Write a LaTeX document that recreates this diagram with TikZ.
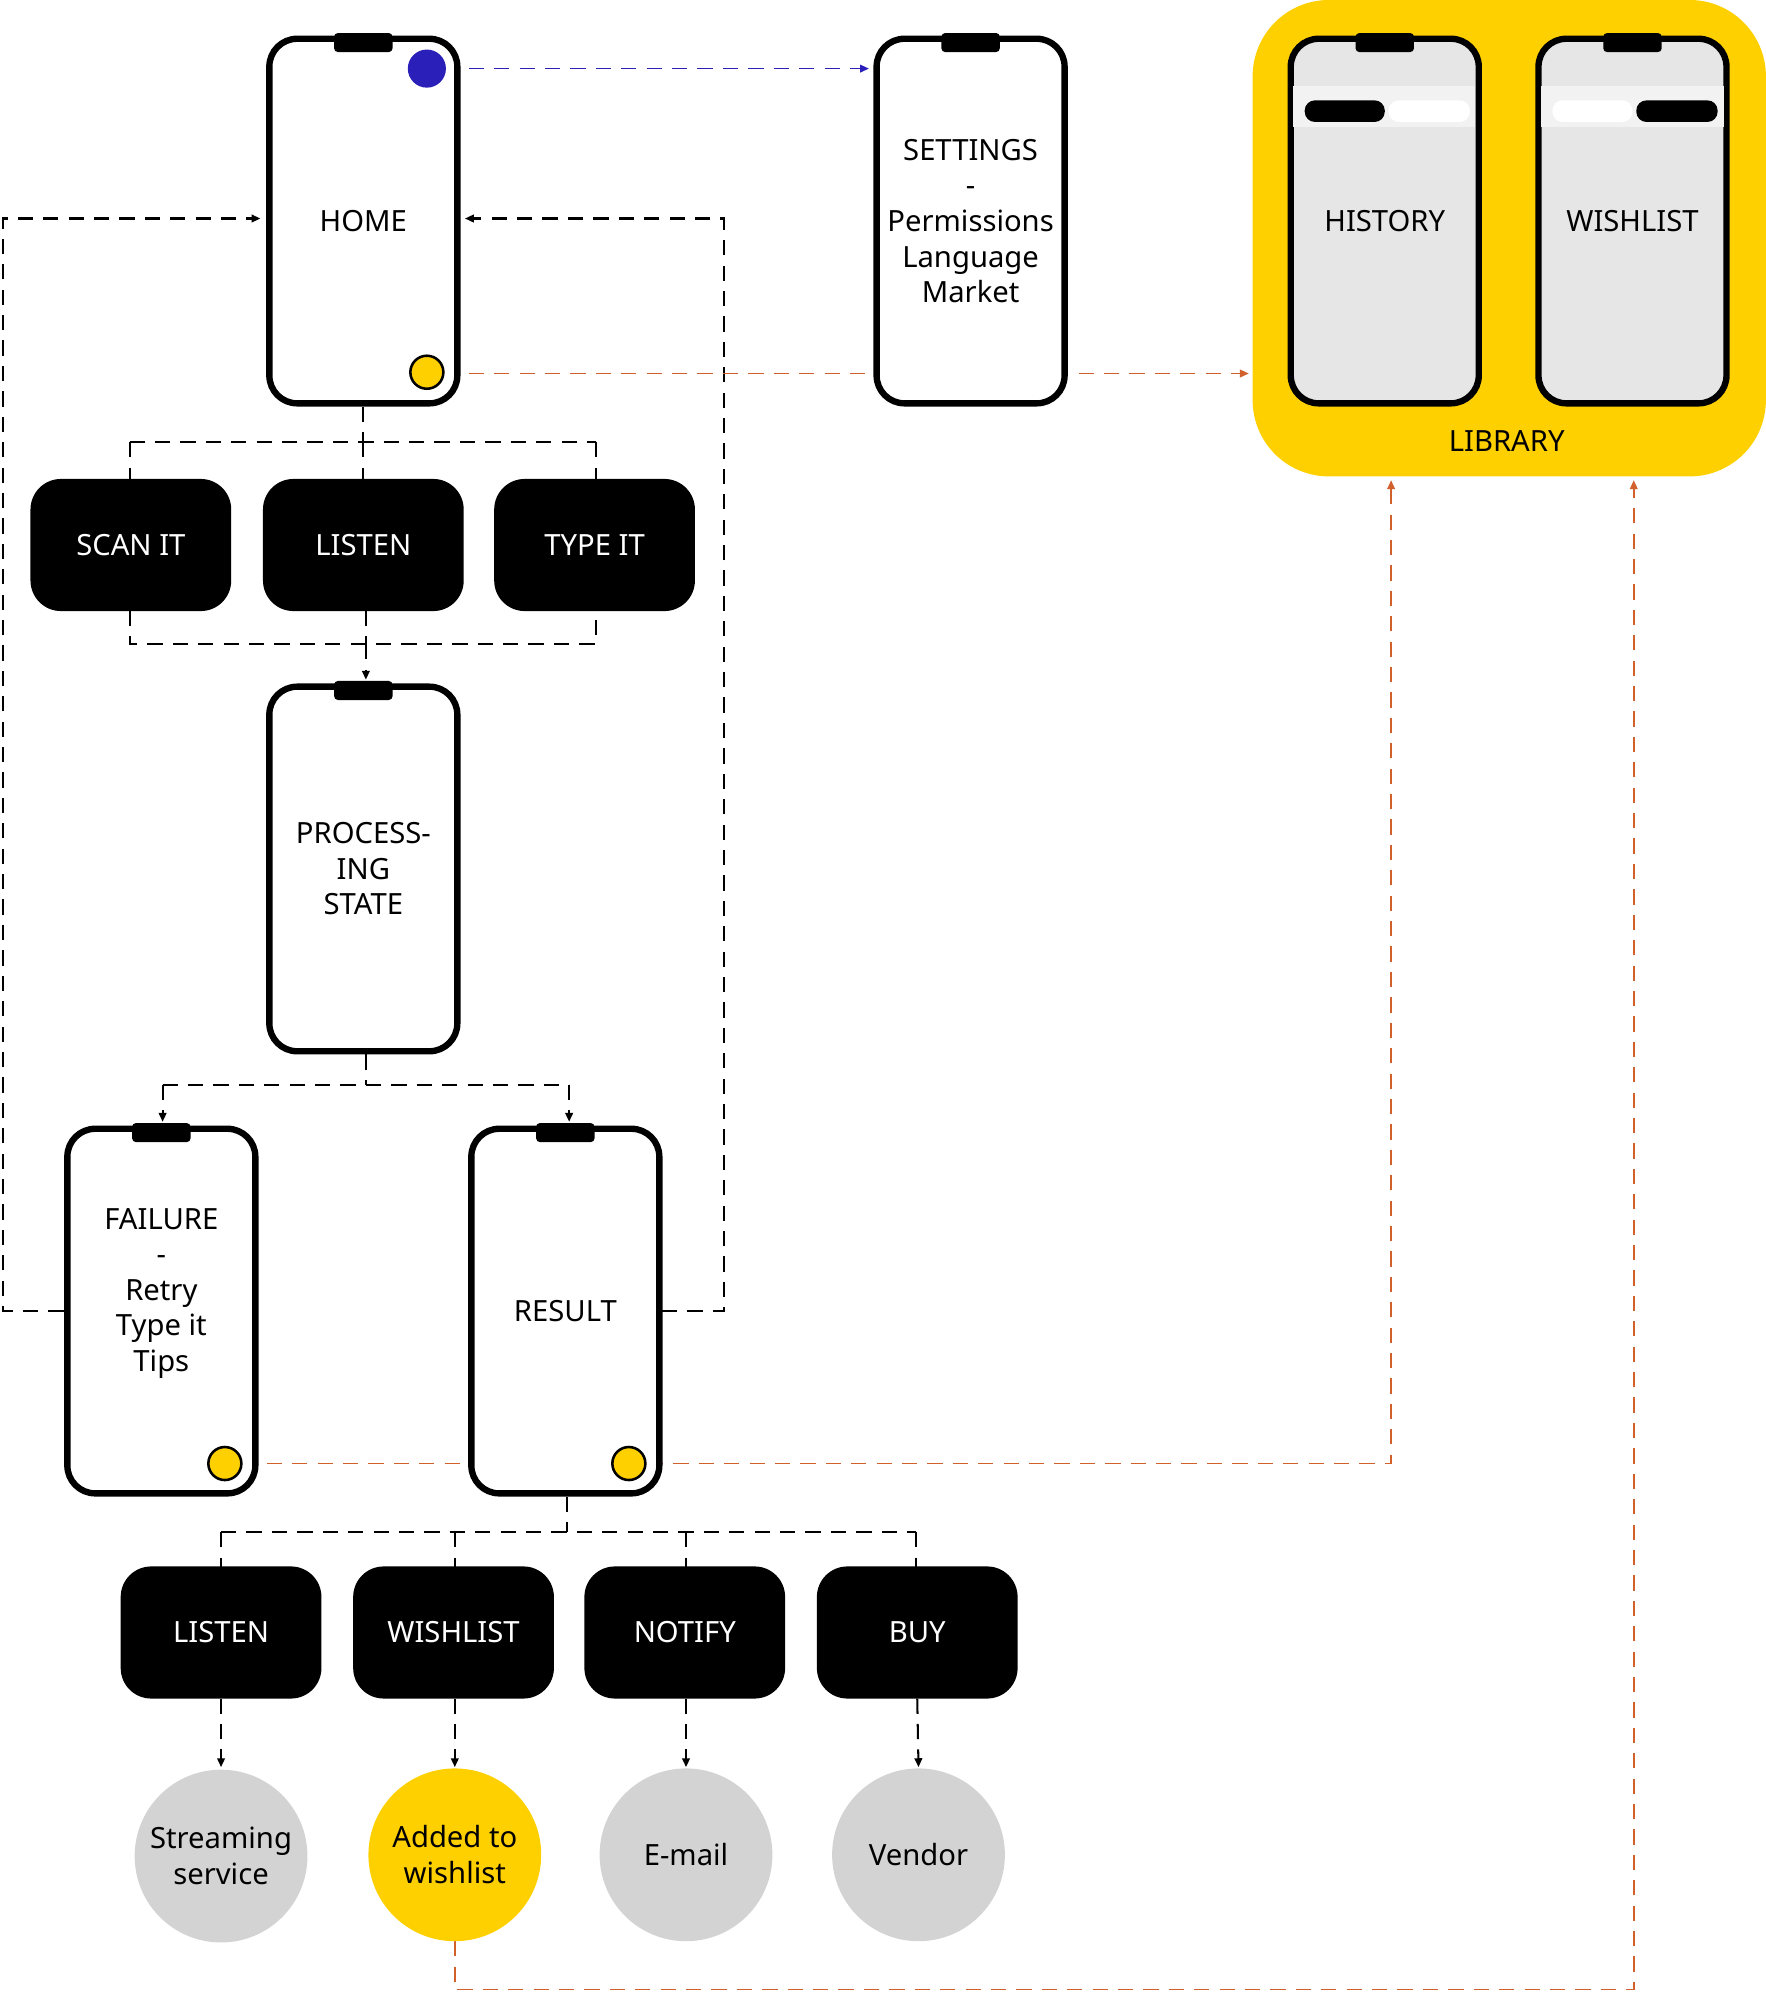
\documentclass[tikz,border=0pt]{standalone}
\usepackage{fontspec}
\setmainfont{Noto Sans}
\setsansfont{Noto Sans}
\usetikzlibrary{arrows.meta}
\definecolor{yel}{HTML}{FFD000}
\definecolor{gry}{HTML}{D3D3D3}
\definecolor{lgry}{HTML}{E6E6E6}
\definecolor{org}{HTML}{D2602A}
\definecolor{blu}{HTML}{2A1FB8}
\begin{document}
\begin{tikzpicture}[x=1pt,y=-1pt,
  every node/.style={font=\fontsize{23}{28}\selectfont},
  phone/.style={draw=black,line width=5pt,rounded corners=22pt,fill=white,minimum width=148pt,minimum height=287pt,align=center,inner sep=0pt},
  btn/.style={fill=black,rounded corners=24pt,minimum width=158pt,minimum height=104pt,text=white,inner sep=0pt},
  circ/.style={circle,fill=gry,minimum size=136pt,inner sep=0pt,align=center},
  dsh/.style={dash pattern=on 12pt off 8pt,line width=1.6pt},
  tip/.style={-{Triangle[length=7pt,width=6pt]}},
  dot/.style={circle,draw=black,line width=2pt,fill=yel,minimum size=26pt,inner sep=0pt}
]
\useasboundingbox (0,0) rectangle (1390,1568);
% library background
\fill[yel,rounded corners=60pt] (986,0) rectangle (1390,375);
\node (lib) at (1186,347) {LIBRARY};
% coordinates for connectors
\coordinate (h1) at (286,348); \coordinate (hl) at (102,348); \coordinate (hr) at (469,348);
\coordinate (b1) at (102,507); \coordinate (b2) at (469,507); \coordinate (bm) at (288,507);
\coordinate (p1) at (288,854); \coordinate (pl) at (128,854); \coordinate (pr) at (448,854);
\coordinate (fl) at (2,1032); \coordinate (ft) at (2,172);
\coordinate (rr) at (570,1032); \coordinate (rt) at (570,172);
\coordinate (r1) at (446,1206); \coordinate (rl) at (174,1206); \coordinate (rrr) at (721,1206);
\coordinate (lx) at (1095,1152); \coordinate (wy) at (358,1566); \coordinate (wx) at (1286,1566);
% black dashed
\draw[dsh] (286,320) -- (h1) (hl) -- (hr) (hl) -- (102,377) (h1) -- (286,377) (hr) -- (469,377);
\draw[dsh] (102,481) -- (b1) -- (b2) -- (469,481) (288,481) -- (bm);
\draw[dsh,tip] (bm) -- (288,535);
\draw[dsh] (288,830) -- (p1) (pl) -- (pr);
\draw[dsh,tip] (pl) -- (128,883);
\draw[dsh,tip] (pr) -- (448,883);
\draw[dsh,tip] (50,1032) -- (fl) -- (ft) -- (205,172);
\draw[dsh,tip] (521,1032) -- (rr) -- (rt) -- (366,172);
\draw[dsh] (446,1178) -- (r1) (rl) -- (rrr);
\foreach \x in {174,358,540,721} \draw[dsh] (\x,1206) -- (\x,1234);
\foreach \x/\y in {174/174,358/358,540/540,722/723} \draw[dsh,tip] (\x,1337) -- (\y,1391);
% orange
\draw[dsh,org,line width=1.4pt,tip] (349,294) -- (983,294);
\draw[dsh,org,line width=1.4pt,tip] (190,1152) -- (lx) -- (1095,378);
\draw[dsh,org,line width=1.4pt,tip] (358,1528) -- (wy) -- (wx) -- (1286,378);
\draw[dsh,blu,line width=1.4pt,tip] (349,54) -- (684,54);
% phones
\node[phone] (home) at (286,174) {HOME};
\node[phone] (set) at (764,174) {SETTINGS\\-\\Permissions\\Language\\Market};
\node[phone,fill=lgry] (hist) at (1090,174) {HISTORY};
\node[phone,fill=lgry] (wish) at (1285,174) {WISHLIST};
\node[phone] (proc) at (286,684) {PROCESS-\\ING\\STATE};
\node[phone] (fail) at (127,1032) {};
\node[align=center] (failt) at (127,1018) {FAILURE\\-\\Retry\\Type it\\Tips};
\node[phone] (res) at (445,1032) {RESULT};
\foreach \n in {home,set,hist,wish,proc,fail,res}
  \fill[black,rounded corners=3pt] ([xshift=-23pt,yshift=2pt]\n.north) rectangle ([xshift=23pt,yshift=-13pt]\n.north);
% top strip in library phones
\fill[black!5] (1018,68) rectangle (1161,100);
\fill[black!5] (1213,68) rectangle (1357,100);
\fill[black,rounded corners=8pt] (1027,79) rectangle (1090,96);
\fill[white,rounded corners=8pt] (1093,79) rectangle (1157,96);
\fill[white,rounded corners=8pt] (1222,79) rectangle (1285,96);
\fill[black,rounded corners=8pt] (1288,79) rectangle (1352,96);
% dots
\node[circle,fill=blu,minimum size=30pt,inner sep=0pt] (bd) at (336,54) {};
\node[dot] (yd) at (336,293) {};
\node[dot] (fd) at (177,1152) {};
\node[dot] (rd) at (495,1152) {};
% buttons
\node[btn] (scan) at (103,429) {SCAN IT};
\node[btn] (lis) at (286,429) {LISTEN};
\node[btn] (type) at (468,429) {TYPE IT};
\node[btn] (l2) at (174,1285) {LISTEN};
\node[btn] (w2) at (357,1285) {WISHLIST};
\node[btn] (n2) at (539,1285) {NOTIFY};
\node[btn] (bu) at (722,1285) {BUY};
% circles
\node[circ] (c1) at (174,1461) {Streaming\\service};
\node[circ,fill=yel] (c2) at (358,1460) {Added to\\wishlist};
\node[circ] (c3) at (540,1460) {E-mail};
\node[circ] (c4) at (723,1460) {Vendor};
\end{tikzpicture}
\end{document}
